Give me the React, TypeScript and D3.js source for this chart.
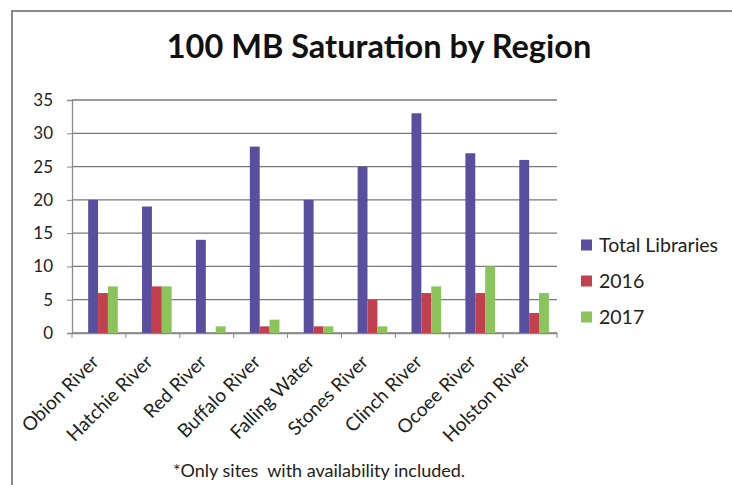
import * as d3 from "d3";
import { useEffect, useRef } from "react";

const regions = [
  "Obion River",
  "Hatchie River",
  "Red River",
  "Buffalo River",
  "Falling Water",
  "Stones River",
  "Clinch River",
  "Ocoee River",
  "Holston River",
];
const totalLibraries = [20, 19, 14, 28, 20, 25, 33, 27, 26];
const sat2016 = [6, 7, 0, 1, 1, 5, 6, 6, 3];
const sat2017 = [7, 7, 1, 2, 1, 1, 7, 10, 6];
const seriesNames = ["Total Libraries", "2016", "2017"];
const seriesColors = ["#5a4f9f", "#c2404e", "#8cc45c"];
const yTicks = [0, 5, 10, 15, 20, 25, 30, 35];

const W = 732;
const H = 485;
const FONT = "Lato, 'Open Sans', sans-serif";

export default function App() {
  const svgRef = useRef<SVGSVGElement | null>(null);

  useEffect(() => {
    if (!svgRef.current) return;
    const svg = d3.select(svgRef.current);
    svg.selectAll("*").remove();

    const margin = { top: 100, left: 72, right: 175, bottom: 152 };
    const plotW = W - margin.left - margin.right;
    const plotH = H - margin.top - margin.bottom;

    // chart frame
    svg.append("rect")
      .attr("x", 12).attr("y", 11)
      .attr("width", W + 20).attr("height", H + 20)
      .attr("fill", "#fff")
      .attr("stroke", "#8a8a8a")
      .attr("stroke-width", 2);

    svg.append("text")
      .attr("x", 379).attr("y", 58)
      .attr("text-anchor", "middle")
      .style("font-family", FONT)
      .style("font-weight", "bold")
      .style("font-size", "32.5px")
      .style("fill", "#111")
      .text("100 MB Saturation by Region");

    const g = svg.append("g")
      .attr("transform", `translate(${margin.left},${margin.top})`);

    const x = d3.scaleBand().domain(regions).range([0, plotW]);
    const xs = d3.scaleBand<number>()
      .domain([0, 1, 2])
      .range([x.bandwidth() * 0.3, x.bandwidth() * 0.85]);
    const y = d3.scaleLinear().domain([0, 35]).range([plotH, 0]);

    // gridlines
    g.append("g")
      .selectAll("line")
      .data(yTicks)
      .enter()
      .append("line")
      .attr("x1", 0).attr("x2", plotW)
      .attr("y1", d => y(d)).attr("y2", d => y(d))
      .attr("stroke", "#7a7a7a")
      .attr("stroke-width", 1.3);

    // y axis
    const yAxis = g.append("g")
      .call(d3.axisLeft(y).tickValues(yTicks).tickSize(5).tickPadding(14));
    yAxis.select(".domain").attr("stroke", "#8a8a8a").attr("stroke-width", 1.3);
    yAxis.selectAll(".tick line").attr("stroke", "#8a8a8a");
    yAxis.selectAll("text")
      .style("font-family", FONT)
      .style("font-size", "17px")
      .style("fill", "#222");

    // x axis
    const xAxis = g.append("g")
      .attr("transform", `translate(0,${plotH})`)
      .call(d3.axisBottom(x).tickSize(0).tickFormat(() => ""));
    xAxis.select(".domain").attr("stroke", "#8a8a8a").attr("stroke-width", 1.3);
    g.append("g")
      .selectAll("line")
      .data(d3.range(regions.length + 1))
      .enter()
      .append("line")
      .attr("x1", i => i * x.step()).attr("x2", i => i * x.step())
      .attr("y1", plotH).attr("y2", plotH + 5)
      .attr("stroke", "#8a8a8a");

    const allSeries = [totalLibraries, sat2016, sat2017];
    allSeries.forEach((vals, si) => {
      g.append("g")
        .selectAll("rect")
        .data(vals)
        .enter()
        .append("rect")
        .attr("x", (_, i) => (x(regions[i]) || 0) + (xs(si) || 0))
        .attr("y", d => y(d))
        .attr("width", xs.bandwidth())
        .attr("height", d => plotH - y(d))
        .attr("fill", seriesColors[si]);
    });

    // category labels
    g.append("g")
      .selectAll("text")
      .data(regions)
      .enter()
      .append("text")
      .attr("transform", d => `translate(${(x(d) || 0) + x.bandwidth() / 2 + 1},${plotH + 30}) rotate(-45)`)
      .attr("text-anchor", "end")
      .style("font-family", FONT)
      .style("font-size", "19px")
      .style("fill", "#222")
      .text(d => d);

    // legend
    const lg = svg.append("g").attr("transform", "translate(581,245)");
    seriesNames.forEach((name, i) => {
      lg.append("rect")
        .attr("x", 0).attr("y", i * 36 - 5.5)
        .attr("width", 11).attr("height", 11)
        .attr("fill", seriesColors[i]);
      lg.append("text")
        .attr("x", 18).attr("y", i * 36)
        .attr("dy", "0.35em")
        .style("font-family", FONT)
        .style("font-size", "19.5px")
        .style("fill", "#222")
        .text(name);
    });

    svg.append("text")
      .attr("x", 319).attr("y", 477)
      .attr("text-anchor", "middle")
      .style("font-family", FONT)
      .style("font-size", "18px")
      .style("fill", "#222")
      .attr("xml:space", "preserve")
      .text("*Only sites  with availability included.");
  }, []);

  return (
    <svg
      ref={svgRef}
      width={W}
      height={H}
      style={{ position: "absolute", left: 0, top: 0, background: "#fff" }}
    />
  );
}
